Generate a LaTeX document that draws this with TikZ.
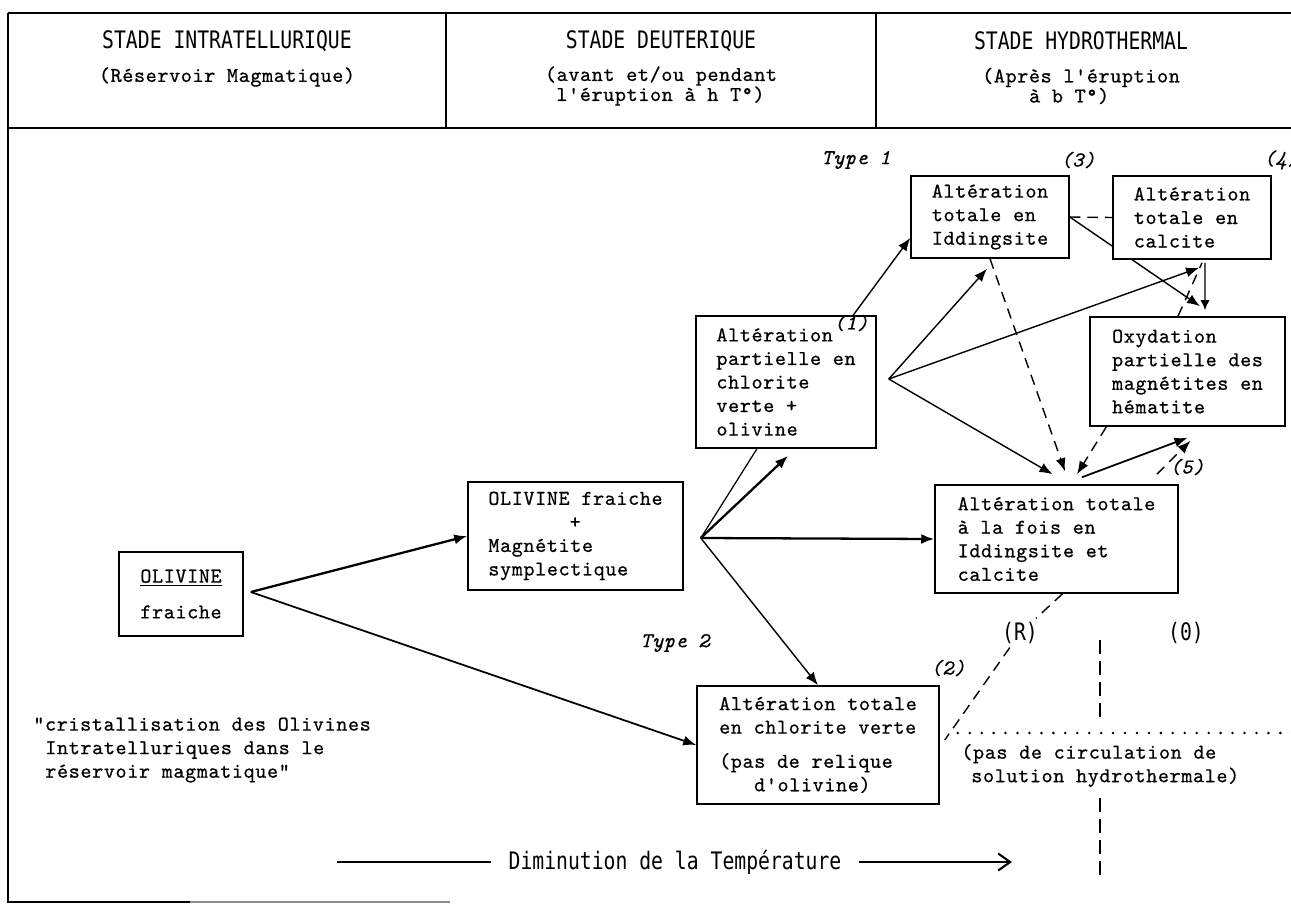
\documentclass[tikz,border=0pt]{standalone}
\usepackage{fontspec}
\usepackage{tikz}
\usetikzlibrary{arrows.meta,calc,backgrounds}
\newfontfamily\machine{lmmono10-regular.otf}[ItalicFont=lmmono10-italic.otf,LetterSpace=3,FakeBold=0.6]
\newfontfamily\baton{DejaVu Sans Mono}[FakeStretch=0.82]

\tikzset{
    boite/.style={draw, fill=white, line width=0.9pt, inner xsep=0.38cm, inner ysep=0pt, align=left, font={\machine\fontsize{12}{13.4}\selectfont}},
    titre/.style={font={\baton\fontsize{13.7}{16}\selectfont}, inner sep=0pt},
    texte/.style={font={\machine\fontsize{12}{13.4}\selectfont}, inner sep=0pt, align=left},
    sous/.style={font={\machine\fontsize{12}{11.4}\selectfont}, inner sep=0pt, align=left},
    numero/.style={font={\machine\itshape\fontsize{12}{13.4}\selectfont}, inner sep=0pt},
    fleche/.style={-{Latex[length=2.6mm,width=2mm]}, line width=1pt},
    tiret/.style={dash pattern=on 6pt off 4pt, line width=0.8pt},
}

\begin{document}
\begin{tikzpicture}[x=0.02cm, y=-0.02cm]
    \useasboundingbox (0,0) rectangle (1291,906);

    % cadre
    \draw[line width=0.9pt] (8,13) -- (1291,13);
    \draw[line width=0.9pt] (8,128) -- (1291,128);
    \draw[line width=0.9pt] (8,13) -- (8,902) -- (190,902);
    \draw[line width=0.9pt, black!45] (190,902) -- (450,902);
    \draw[line width=0.9pt] (446,13) -- (446,128);
    \draw[line width=0.9pt] (876,13) -- (876,128);

    % en-tetes
    \node[titre] (st1) at (227,41) {STADE INTRATELLURIQUE};
    \node[sous] (ss1) at (227,77) {(Réservoir Magmatique)};
    \node[titre] (st2) at (661,41) {STADE DEUTERIQUE};
    \node[sous] (ss2) at (661,86) {(avant et/ou pendant\\\hspace*{0.23cm}l'éruption à h T°)};
    \node[titre] (st3) at (1081,41) {STADE HYDROTHERMAL};
    \node[sous] (ss3) at (1081,86) {(Après l'éruption\\\hspace*{0.94cm}à b T°)};

    % boites
    \node[boite, align=center, minimum width=2.48cm, minimum height=1.68cm] (olv) at (181,594) {\underline{OLIVINE}\\[7pt]fraiche};
    \node[boite, minimum width=4.3cm, minimum height=2.16cm] (omg) at (575.5,536) {OLIVINE fraiche\\\phantom{OLIVINE}+\\Magnétite\\symplectique};
    \node[boite, minimum width=3.6cm, minimum height=2.64cm] (cpart) at (786,382) {Altération\\partielle en\\chlorite\\verte +\\olivine};
    \node[boite, minimum width=3.16cm, minimum height=1.64cm] (idd) at (990,217) {Altération\\totale en\\Iddingsite};
    \node[boite, minimum width=3.16cm, minimum height=1.66cm] (calc) at (1192,217.5) {Altération\\totale en\\calcite};
    \node[boite, minimum width=3.9cm, minimum height=2.18cm] (oxy) at (1187.5,371.5) {Oxydation\\partielle des\\magnétites en\\hématite};
    \node[boite, minimum width=4.86cm, minimum height=2.16cm] (idcal) at (1056.5,539) {Altération totale\\à la fois en\\Iddingsite et\\calcite};
    \node[boite, minimum width=4.84cm, minimum height=2.36cm] (chl) at (818,745) {Altération totale\\en chlorite verte\\[6pt](pas de relique\\\hspace*{0.7cm}d'olivine)};

    % reperes
    \node[numero] (type1) at (856,160) {Type 1};
    \node[numero] (type2) at (675,643) {Type 2};
    \node[numero] (n1) at (851,323) {(1)};
    \node[numero] (n2) at (948,668) {(2)};
    \node[numero] (n3) at (1078,160) {(3)};
    \node[numero] (n4) at (1281,160) {(4)};
    \node[numero] (n5) at (1187,467) {(5)};
    \node[titre, fill=white, inner sep=2pt] (rlab) at (1020,633) {(R)};
    \node[titre] (olab) at (1186,633) {(0)};
    \node[texte, anchor=west] (cristal) at (33,750) {"cristallisation des Olivines\\\hspace*{0.24cm}Intratelluriques dans le\\\hspace*{0.24cm}réservoir magmatique"};
    \node[texte, anchor=west] (circ) at (961,765.5) {(pas de circulation de\\\hspace*{0.2cm}solution hydrothermale)};

    % temperature
    \coordinate (tg) at (337,862);
    \coordinate (td) at (1012,862);
    \node[titre, inner xsep=0.35cm] (tempo) at (675,862) {Diminution de la Température};
    \draw[line width=1.2pt] (tg) -- (tempo);
    \draw[line width=1.2pt, -{Straight Barb[length=2.4mm,width=3.4mm]}] (tempo) -- (td);

    % limites hydrothermales
    \coordinate (rend) at ($(chl.east)+(5,-5)$);
    \coordinate (pointille) at ($(rend)+(13,-7)$);
    \draw[line width=1.6pt, line cap=round, dash pattern=on 0pt off 6.8pt] (pointille) -- ++(340,0);
    \draw[line width=1.4pt, dash pattern=on 8pt off 4pt] (1100,640) -- (1100,722);
    \draw[line width=1.4pt, dash pattern=on 8pt off 4pt] (1100,798) -- (1100,880);

    \begin{pgfonlayer}{background}
        \fill[white] (0,0) rectangle (1291,906);
        \coordinate (fanA) at ($(olv.east)+(7,-2)$);
        \coordinate (fanB) at ($(omg.east)+(17,2)$);
        \coordinate (fanC) at ($(cpart.east)+(12,-3)$);
        \draw[fleche, line width=1.3pt] (fanA) -- (omg.west);
        \draw[fleche] (fanA) -- (chl.west);
        \draw[line width=0.7pt] (fanB) -- ($(cpart.south west)!0.34!(cpart.south east)$);
        \draw[fleche, line width=1.3pt] (fanB) -- ($(cpart.south)+(2,7)$);
        \draw[fleche, line width=1.3pt] (fanB) -- (idcal.west);
        \draw[fleche, line width=0.8pt] (fanB) -- (chl.north);
        \draw[fleche, line width=0.8pt] ($(cpart.north west)!0.87!(cpart.north east)$) -- ($(idd.north west)!0.75!(idd.south west)$);
        \draw[fleche, line width=0.8pt] (fanC) -- ($(idd.south)+(-3,10)$);
        \draw[fleche, line width=0.8pt] (fanC) -- ($(calc.south)+(7,8)$);
        \draw[fleche, line width=0.8pt] (fanC) -- ($(idcal.north)+(-4,-10)$);
        \draw[tiret, -{Latex[length=2.6mm,width=2mm]}] (idd.south) -- ($(idcal.north)+(8.5,-13)$);
        \draw[tiret] (idd.east) -- (calc.west);
        \draw[fleche, line width=0.8pt] (idd.east) -- ($(oxy.north)+(12.5,-10)$);
        \draw[line width=0.8pt, -{Latex[length=2mm,width=1.8mm]}] ($(calc.south)+(13,3)$) -- ($(oxy.north)+(17.5,-6)$);
        \draw[tiret] ($(oxy.north)+(-9.5,0)$) -- ($(calc.south)+(10,3)$);
        \draw[tiret, -{Latex[length=2.6mm,width=2mm]}] ($(oxy.south west)!0.087!(oxy.south east)$) -- ($(idcal.north)+(20.5,-10)$);
        \draw[fleche] ($(idcal.north)+(25.5,-7)$) -- ($(oxy.south)+(0,11)$);
        \draw[tiret, -{Latex[length=2.6mm,width=2mm]}] ($(idcal.north west)!0.91!(idcal.north east)+(0,-10)$) -- ($(oxy.south)+(3,14)$);
        \draw[tiret] ($(idcal.south)+(6,0)$) -- (rlab) -- (rend);
    \end{pgfonlayer}
\end{tikzpicture}
\end{document}
